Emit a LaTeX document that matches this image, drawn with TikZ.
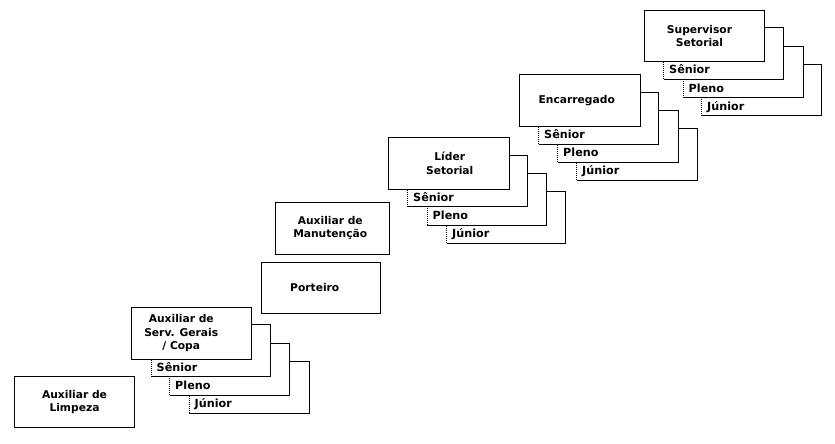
\documentclass[tikz,border=0pt]{standalone}
\usepackage{fontspec}
\setmainfont{DejaVu Sans}
\usetikzlibrary{fit}
\tikzset{
  mainbox/.style={draw, fill=white, line width=1pt, inner sep=0pt, outer sep=0pt},
  lvlfill/.style={fill=white, inner sep=0pt, outer sep=0pt},
  edgeline/.style={line width=1pt, line join=miter},
  dotline/.style={line width=1pt, dash pattern=on 1pt off 1pt},
  maintext/.style={inner sep=0pt, align=center, font=\bfseries\fontsize{10.7}{13.3}\selectfont},
  lvltext/.style={anchor=base west, inner sep=0pt, font=\bfseries\fontsize{11.2}{13}\selectfont}
}
% main box: name, x1, y1, x2, y2, text xshift, text
\newcommand\mainstack[7]{%
  \node[mainbox, fit={(#2,#3)(#4,#5)}] (#1) {};
  \node[maintext] (#1-t) at ([xshift=#6pt]#1.center) {#7};
}
% level box: name, x1, y1, x2, y2, label
\newcommand\levelbox[6]{%
  \node[lvlfill, fit={(#2,#3)(#4,#5)}] (#1) {};
  \draw[edgeline] (#1.south west) -- (#1.south east) -- (#1.north east) -- (#1.north west);
  \draw[dotline] (#1.south west) -- (#1.north west);
  \node[lvltext] (#1-t) at ([xshift=5.5pt,yshift=5.2pt]#1.south west) {#6};
}
\begin{document}
\begin{tikzpicture}[x=1pt,y=-1pt]
\fill[white] (0,0) rectangle (835,444);
\useasboundingbox (0,0) rectangle (835,444);

% Auxiliar de Limpeza
\mainstack{limpeza}{14.5}{376.5}{134.5}{427.5}{0}{Auxiliar de\\Limpeza}

% Auxiliar de Serv. Gerais / Copa
\levelbox{sgJ}{189}{361.5}{309}{413}{Júnior}
\levelbox{sgP}{169.5}{343}{289.5}{395}{Pleno}
\levelbox{sgS}{151}{324.5}{270.5}{376.5}{Sênior}
\mainstack{servgerais}{131.5}{307.5}{251}{359}{-10}{Auxiliar de\\Serv. Gerais\\/ Copa}

% Porteiro
\mainstack{porteiro}{261}{262.5}{380.5}{313.5}{-6}{Porteiro}

% Auxiliar de Manutencao
\mainstack{manutencao}{275}{202.5}{389.5}{254}{-2}{Auxiliar de\\Manutenção}

% Lider Setorial
\levelbox{lsJ}{446.5}{191}{565.5}{243}{Júnior}
\levelbox{lsP}{427}{173}{546.5}{225}{Pleno}
\levelbox{lsS}{407.5}{155}{527.5}{206.5}{Sênior}
\mainstack{lider}{388.5}{137.5}{509}{189}{1}{Líder\\Setorial}

% Encarregado
\levelbox{enJ}{576.5}{128.5}{697.5}{180}{Júnior}
\levelbox{enP}{557.5}{110.5}{678}{162}{Pleno}
\levelbox{enS}{538.5}{92}{658.5}{144}{Sênior}
\mainstack{encarregado}{519.5}{74.5}{640}{126}{-3}{Encarregado}

% Supervisor Setorial
\levelbox{svJ}{701.5}{65}{821.5}{115.5}{Júnior}
\levelbox{svP}{683}{46.5}{803}{97.5}{Pleno}
\levelbox{svS}{663.5}{27.5}{783.5}{79}{Sênior}
\mainstack{supervisor}{644.5}{10.5}{764.5}{61.5}{-5}{Supervisor\\Setorial}
\end{tikzpicture}
\end{document}
